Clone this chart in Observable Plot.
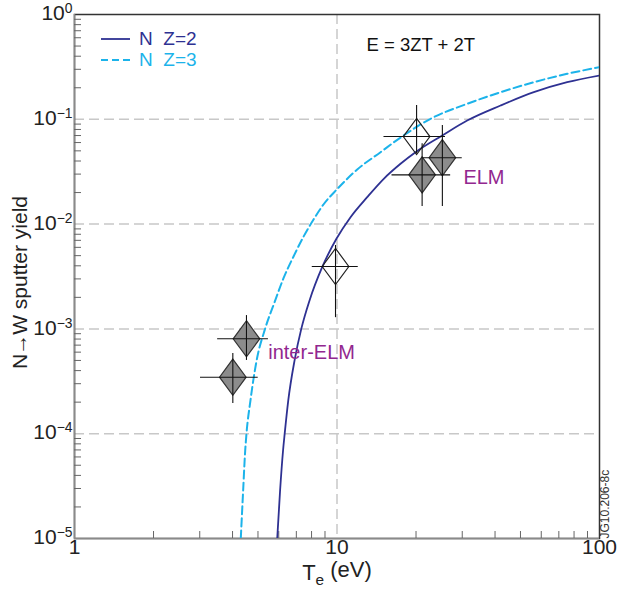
<!DOCTYPE html>
<html>
<head>
<meta charset="utf-8">
<script src="https://cdn.jsdelivr.net/npm/d3@7"></script>
<script src="https://cdn.jsdelivr.net/npm/@observablehq/plot@0.6"></script>
<style>
  html, body { margin: 0; padding: 0; background: #fff; }
  #wrap { position: relative; width: 619px; height: 597px; font-family: "Liberation Sans", Arial, Helvetica, sans-serif; }
  #legend { position: absolute; left: 101px; top: 28px; font-size: 19px; line-height: 21px; }
  #legend .row { display: flex; align-items: center; height: 21px; white-space: pre; }
  #legend svg { margin-right: 9px; }
</style>
</head>
<body>
<div id="wrap"></div>
<script>
// ---- data ----
// Curve N Z=2 (solid navy): Te (eV), yield
const z2Te    = [5.92, 6.07, 6.23, 6.32, 6.52, 6.89, 7.31, 7.86, 8.78, 9.95, 11.26, 13.03, 15.07, 17.46, 19.91, 25.17, 31.33, 41.98, 56.2, 75.3, 100];
const z2Yield = [1e-5, 2.87e-5, 6.92e-5, 1e-4, 2.07e-4, 4.99e-4, 1e-3, 1.87e-3, 3.88e-3, 7.24e-3, 0.01164, 0.01806, 0.02705, 0.03761, 0.04853, 0.07004, 0.09739, 0.1354, 0.1814, 0.2259, 0.2618];
// Curve N Z=3 (dashed cyan)
const z3Te    = [4.30, 4.39, 4.47, 4.52, 4.68, 4.94, 5.32, 5.78, 6.25, 6.83, 7.46, 8.14, 8.88, 10.04, 11.94, 14.65, 17.46, 22.71, 31.33, 41.98, 56.2, 75.3, 100];
const z3Yield = [1e-5, 2.87e-5, 6.92e-5, 1e-4, 2.07e-4, 4.99e-4, 1e-3, 1.79e-3, 3.03e-3, 4.91e-3, 7.61e-3, 0.01106, 0.01538, 0.02172, 0.0332, 0.04853, 0.067, 0.1011, 0.1406, 0.1814, 0.2259, 0.2717, 0.3141];

// Measurements (filled = grey diamonds, open = white diamonds)
const filledTe   = [4.01, 4.52, 21.1, 25.2];
const filledY    = [3.46e-4, 8.05e-4, 0.0295, 0.043];
const filledTeLo = [3.02, 3.51, 16.2, 21.2];
const filledTeHi = [5.01, 5.48, 27.1, 30.0];
const filledYLo  = [1.94e-4, 5.0e-4, 0.0147, 0.0147];
const filledYHi  = [5.82e-4, 1.34e-3, 0.0584, 0.0873];

const openTe   = [9.87, 20.1];
const openY    = [3.94e-3, 0.0685];
const openTeLo = [8.05, 15.1];
const openTeHi = [12.05, 25.9];
const openYLo  = [1.28e-3, 0.0469];
const openYHi  = [6.25e-3, 0.1355];

// Axis ticks / labels
const xMajor = [1, 10, 100];
const yExponents = [0, -1, -2, -3, -4, -5];
const multipliers = [2, 3, 4, 5, 6, 7, 8, 9];
const gridY = [1e-1, 1e-2, 1e-3, 1e-4];
const gridX = [10];

// Annotations
const annoText = ["E = 3ZT + 2T", "ELM", "inter-ELM"];
const annoTe   = [12.95, 30.3, 5.47];
const annoY    = [0.506, 0.0275, 5.96e-4];
const annoColor = ["#111111", "#92278f", "#92278f"];
const annoSize  = [18.5, 20, 20];

const legendLabels = ["N  Z=2", "N  Z=3"];
const legendColors = ["#2e3192", "#1cb3ea"];

// ---- build tables ----
const z2 = z2Te.map((t, i) => ({t, y: z2Yield[i]}));
const z3 = z3Te.map((t, i) => ({t, y: z3Yield[i]}));
const filled = filledTe.map((t, i) => ({t, y: filledY[i], t0: filledTeLo[i], t1: filledTeHi[i], y0: filledYLo[i], y1: filledYHi[i]}));
const open = openTe.map((t, i) => ({t, y: openY[i], t0: openTeLo[i], t1: openTeHi[i], y0: openYLo[i], y1: openYHi[i]}));
const annos = annoText.map((s, i) => ({s, t: annoTe[i], y: annoY[i], c: annoColor[i], f: annoSize[i]}));

const yMinor = yExponents.slice(1).flatMap(e => multipliers.map(m => m * Math.pow(10, e)));
const xMinor = [1, 10].flatMap(d => multipliers.map(m => m * d));
const yLabels = yExponents.map(e => ({v: Math.pow(10, e), s: "10^" + (e < 0 ? "\u2212" + (-e) : String(e))}));

const W = 619, H = 597, mL = 74, mR = 20, mT = 14, mB = 59;
const plotW = W - mL - mR, plotH = H - mT - mB;
const tickLen = 7;

const diamond = {
  draw(ctx, size) {
    const r = Math.sqrt(size / Math.PI);
    const h = r * 1.36;
    ctx.moveTo(0, -h); ctx.lineTo(r, 0); ctx.lineTo(0, h); ctx.lineTo(-r, 0); ctx.closePath();
  }
};

const font = '"Liberation Sans", Arial, Helvetica, sans-serif';

const chart = Plot.plot({
  width: W, height: H,
  marginLeft: mL, marginRight: mR, marginTop: mT, marginBottom: mB,
  x: {type: "log", domain: [1, 100], axis: null},
  y: {type: "log", domain: [1e-5, 1], axis: null},
  style: {fontFamily: font, background: "#fff", overflow: "visible"},
  marks: [
    // grid
    Plot.ruleY(gridY, {y: d => d, stroke: "#c8c8c8", strokeWidth: 1.5, strokeDasharray: "10,5"}),
    Plot.ruleX(gridX, {x: d => d, stroke: "#c8c8c8", strokeWidth: 1.5, strokeDasharray: "10,5"}),
    // frame (top/right dark), left/bottom grey
    Plot.frame({stroke: "#333", strokeWidth: 1.5}),
    Plot.ruleX([1], {x: d => d, stroke: "#8a8a8a", strokeWidth: 1.5}),
    Plot.ruleY([1e-5], {y: d => d, stroke: "#8a8a8a", strokeWidth: 1.5}),
    // inward ticks
    Plot.tickY(yMinor, {y: d => d, stroke: "#666", strokeWidth: 1, insetRight: plotW - tickLen}),
    Plot.tickX(xMinor, {x: d => d, stroke: "#666", strokeWidth: 1, insetTop: plotH - tickLen}),
    // curves
    Plot.line(z3, {x: "t", y: "y", stroke: "#1cb3ea", strokeWidth: 2, strokeDasharray: "8,4", curve: "monotone-x", clip: true}),
    Plot.line(z2, {x: "t", y: "y", stroke: "#2e3192", strokeWidth: 1.8, curve: "monotone-x", clip: true}),
    // diamonds
    Plot.dot(filled, {x: "t", y: "y", symbol: diamond, r: 13.3, fill: "#8c8c8c", stroke: "#333", strokeWidth: 1.2}),
    Plot.dot(open, {x: "t", y: "y", symbol: diamond, r: 13.3, fill: "none", stroke: "#222", strokeWidth: 1.2}),
    // error bars
    Plot.ruleY(filled, {y: "y", x1: "t0", x2: "t1", stroke: "#111", strokeWidth: 1.1}),
    Plot.ruleX(filled, {x: "t", y1: "y0", y2: "y1", stroke: "#111", strokeWidth: 1.1}),
    Plot.ruleY(open, {y: "y", x1: "t0", x2: "t1", stroke: "#111", strokeWidth: 1.1}),
    Plot.ruleX(open, {x: "t", y1: "y0", y2: "y1", stroke: "#111", strokeWidth: 1.1}),
    // annotations
    Plot.text(annos, {x: "t", y: "y", text: "s", fill: "c", fontSize: "f", textAnchor: "start"}),
    // tick labels
    Plot.text(xMajor, {x: d => d, text: d => String(d), frameAnchor: "bottom", textAnchor: "middle", dy: 15, fontSize: 21, fill: "#222"}),
    Plot.text(yLabels, {y: "v", text: "s", frameAnchor: "left", dx: -2, dy: -1, textAnchor: "end", fontSize: 21, fill: "#222"}),
    // axis titles
    Plot.text(["T_e (eV)"], {frameAnchor: "bottom", textAnchor: "middle", dy: 41, text: d => d, fontSize: 22, fill: "#222"}),
    Plot.text(["N\u2192W sputter yield"], {frameAnchor: "left", textAnchor: "middle", dx: -54, dy: 6, rotate: -90, text: d => d, fontSize: 21, fill: "#222"}),
    Plot.text(["JG10.206-8c"], {frameAnchor: "bottom-right", dx: 9, dy: 0, rotate: -90, textAnchor: "start", text: d => d, fontSize: 12, fill: "#333"})
  ]
});

// superscripts / subscripts as tspans
d3.select(chart).selectAll("text").each(function() {
  const s = this.textContent;
  const t = d3.select(this);
  if (/^10\^/.test(s)) {
    const exp = s.slice(3);
    this.textContent = "";
    t.append("tspan").text("10");
    t.append("tspan").attr("dy", "-0.5em").attr("font-size", "0.66em").text(exp);
  } else if (s === "T_e (eV)") {
    this.textContent = "";
    t.append("tspan").text("T");
    t.append("tspan").attr("dy", "0.35em").attr("font-size", "0.7em").text("e");
    t.append("tspan").attr("dy", "-0.35em").text(" (eV)");
  } else if (s === "N\u2192W sputter yield") {
    this.textContent = "";
    t.append("tspan").text("N");
    t.append("tspan").attr("dx", "-1").text("\u2192");
    t.append("tspan").attr("dx", "-1").text("W sputter yield");
  }
});

const wrap = document.getElementById("wrap");
wrap.appendChild(chart);

// legend overlay
const legend = document.createElement("div");
legend.id = "legend";
legendLabels.forEach((lab, i) => {
  const row = document.createElement("div");
  row.className = "row";
  row.style.color = legendColors[i];
  const sw = d3.create("svg").attr("width", 29).attr("height", 4);
  sw.append("line").attr("x1", 0).attr("x2", 29).attr("y1", 2).attr("y2", 2)
    .attr("stroke", legendColors[i]).attr("stroke-width", i === 0 ? 1.8 : 2)
    .attr("stroke-dasharray", i === 0 ? null : "7,4");
  row.appendChild(sw.node());
  const span = document.createElement("span");
  span.textContent = lab;
  row.appendChild(span);
  legend.appendChild(row);
});
wrap.appendChild(legend);
</script>
</body>
</html>
